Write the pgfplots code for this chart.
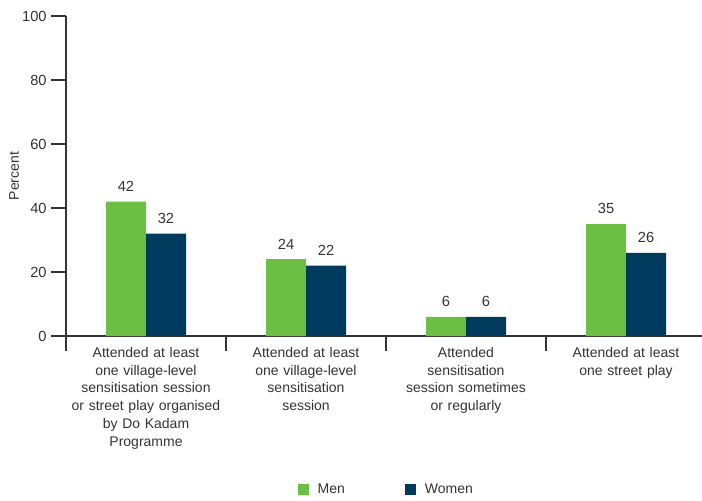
\documentclass[border=0pt]{standalone}
\usepackage{pgfplots}
\pgfplotsset{compat=1.18}
\usepackage{fontspec}
\setmainfont{Liberation Sans}
\definecolor{mengreen}{HTML}{6CBE45}
\definecolor{womennavy}{HTML}{003A5D}
\definecolor{txt}{HTML}{333333}
\begin{document}
\begin{tikzpicture}
\useasboundingbox (-49.5pt,-123pt) rectangle (477pt,252pt);
\begin{axis}[
  at={(0,0)}, anchor=south west,
  scale only axis, width=480pt, height=240pt,
  xmin=-0.5, xmax=3.5, ymin=0, ymax=100,
  axis lines*=left,
  axis line style={txt, line width=0.8pt, -},
  ytick={0,20,40,60,80,100},
  tick style={txt, line width=0.8pt},
  tick align=outside,
  major tick length=11pt,
  xtick={-0.5,0.5,1.5,2.5,3.5},
  x tick label as interval,
  xticklabels={
    {Attended at least\\one village-level\\sensitisation session\\or street play organised\\by Do Kadam\\Programme},
    {Attended at least\\one village-level\\sensitisation\\session},
    {Attended\\sensitisation\\session sometimes\\or regularly},
    {Attended at least\\one street play}},
  xticklabel style={align=center, text width=130pt, font=\fontsize{10.5}{13.3}\selectfont, text=txt, anchor=north, yshift=6pt},
  yticklabel style={font=\fontsize{11}{13}\selectfont, text=txt},
  /pgf/number format/assume math mode=true,
  ylabel={Percent},
  ylabel style={at={(axis description cs:-0.081,0.5)}, anchor=center, font=\fontsize{10.5}{12}\selectfont, text=txt},
  ybar=0pt, bar width=30pt,
  nodes near coords,
  every node near coord/.append style={font=\fontsize{11}{13}\selectfont, text=txt, yshift=4pt},
  legend style={at={(axis description cs:0.501,-0.48)}, anchor=center, draw=none, legend columns=2,
    font=\fontsize{10.5}{13}\selectfont, text=txt,
    /tikz/every even column/.append style={column sep=43pt}},
  legend image code/.code={\fill[#1] (0pt,-4.1pt) rectangle (8.2pt,4.1pt); \path (13pt,0pt);},
]
\addplot[fill=mengreen, draw=none] coordinates {(0,42) (1,24) (2,6) (3,35)};
\addplot[fill=womennavy, draw=none] coordinates {(0,32) (1,22) (2,6) (3,26)};
\legend{Men, Women}
\end{axis}
\end{tikzpicture}
\end{document}
